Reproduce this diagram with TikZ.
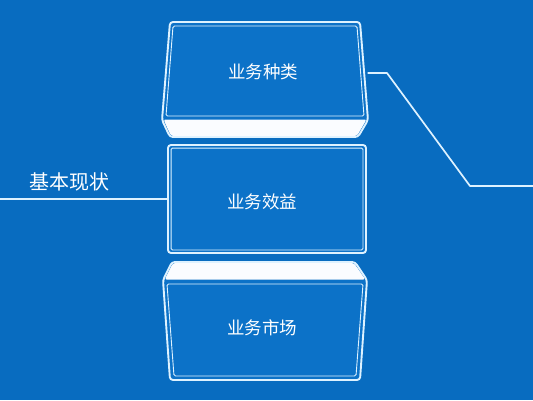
\documentclass[tikz,border=0pt]{standalone}
\usepackage{fontspec}
\newfontfamily\cjk{Noto Sans CJK SC}
\definecolor{bgc}{RGB}{8,108,192}
\definecolor{facec}{RGB}{12,114,200}
\definecolor{linec}{RGB}{222,242,255}
\definecolor{basec}{RGB}{250,252,255}
\begin{document}
\begin{tikzpicture}[x=1pt,y=-1pt,
  edge/.style={draw=linec, line width=1.7pt},
  outline/.style={draw=linec, line width=1.9pt, rounded corners=3pt, fill=facec},
  innerline/.style={draw=linec, line width=0.9pt, rounded corners=1.5pt},
  lbl/.style={text=white, font=\cjk\fontsize{17.5}{17.5}\selectfont, inner sep=0pt}]
\fill[bgc] (0,0) rectangle (533,400);
\useasboundingbox (0,0) rectangle (533,400);
% top box
\draw[outline] (170,22)--(360,22)--(368,120)--(358,137)--(170,137)--(162,120)--cycle;
\fill[basec, rounded corners=2pt] (163.5,119.5)--(366.5,119.5)--(357,136)--(171,136)--cycle;
\draw[innerline] (173,26)--(357,26)--(364,116)--(166,116)--cycle;
\node[lbl] (t1) at (263,72) {业务种类};
\coordinate (t1e) at (367.5,73);
% middle box
\node[draw=linec, line width=1.9pt, rounded corners=3pt, fill=facec,
      minimum width=198pt, minimum height=108pt, inner sep=0pt] (m) at (267,199) {};
\draw[innerline] ([shift={(4pt,-4pt)}]m.north west) rectangle ([shift={(-4pt,4pt)}]m.south east);
\node[lbl] (t2) at (262,202) {业务效益};
% bottom box
\draw[outline] (172,262)--(355,262)--(367,280)--(360,380)--(170,380)--(163,280)--cycle;
\fill[basec, rounded corners=2pt] (173,263)--(354,263)--(365.3,279.5)--(164.7,279.5)--cycle;
\draw[innerline] (167,284)--(363,284)--(356,376)--(174,376)--cycle;
\node[lbl] (t3) at (262,328) {业务市场};
% left label and line
\node[lbl, font=\cjk\fontsize{20}{20}\selectfont] (s) at (69,182) {基本现状};
\coordinate (lstart) at (0,199);
\draw[edge] (lstart) -- (m.west);
% right connector
\coordinate (k1) at (387,73);
\coordinate (k2) at (470,186);
\coordinate (rend) at (533,186);
\draw[edge, line join=round] (t1e) -- (k1) -- (k2) -- (rend);
\end{tikzpicture}
\end{document}
